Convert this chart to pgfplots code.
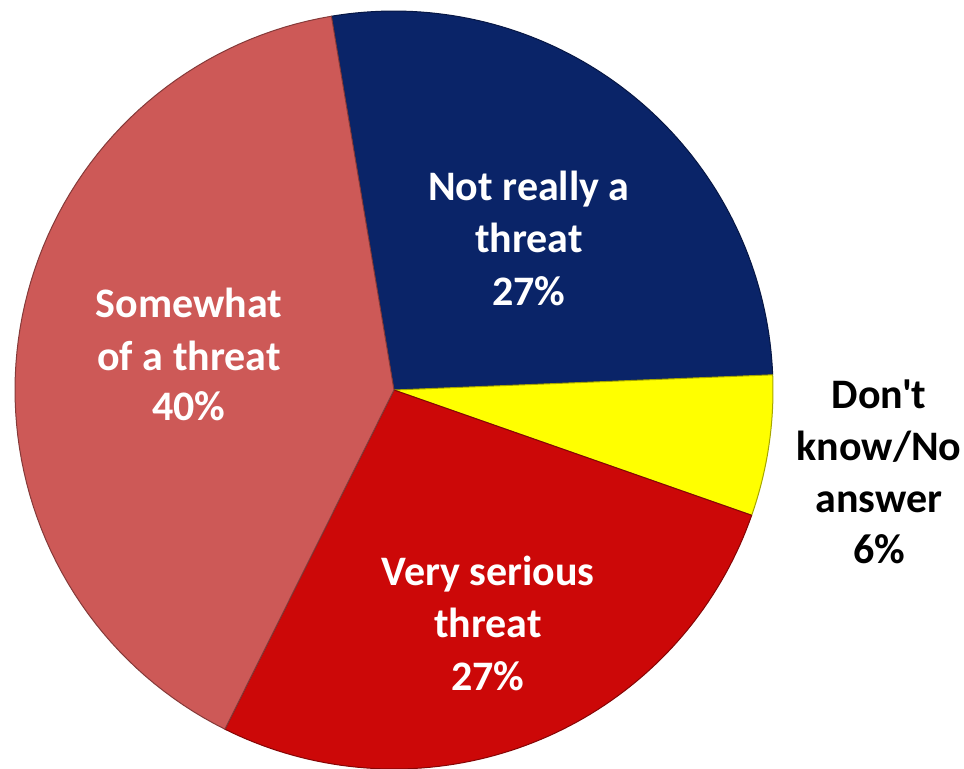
\documentclass[border=0pt]{standalone}
\usepackage{pgfplots}
\pgfplotsset{compat=1.18}
\usepackage{fontspec}
\setmainfont{Carlito}[Ligatures=TeXOff]
\definecolor{cSome}{RGB}{205,89,87}
\definecolor{cNot}{RGB}{10,36,104}
\definecolor{cDK}{RGB}{255,255,0}
\definecolor{cVery}{RGB}{204,8,8}
% shares in percent, clockwise from the top-left boundary
\def\vNot{27}
\def\vDK{6}
\def\vVery{27}
\def\vSome{40}
\def\aStart{-99.5}
\pgfmathsetmacro{\aA}{\aStart}
\pgfmathsetmacro{\aB}{\aA+3.6*\vNot}
\pgfmathsetmacro{\aC}{\aB+3.6*\vDK}
\pgfmathsetmacro{\aD}{\aC+3.6*\vVery}
\pgfmathsetmacro{\aE}{\aD+3.6*\vSome}
\newcommand{\slice}[3]{%
  \addplot[fill=#3, draw=#3!65!black, line width=0.5pt, line join=round,
    domain=#1:#2, samples=80, variable=\t]
    ({394+379*cos(t)},{390+379*sin(t)}) -- (axis cs:394,390) -- cycle;}
\begin{document}
\begin{tikzpicture}
\begin{axis}[
  width=482pt, height=384pt, scale only axis,
  xmin=0, xmax=964, ymin=0, ymax=768, y dir=reverse,
  hide axis, clip=true,
]
\addplot[draw=none] coordinates {(0,0) (964,768)};
\slice{\aA}{\aB}{cNot}
\slice{\aB}{\aC}{cDK}
\slice{\aC}{\aD}{cVery}
\slice{\aD}{\aE}{cSome}
\begin{scope}[every node/.style={anchor=base, inner sep=0pt, font=\fontsize{21}{26}\selectfont\bfseries}]
\node[white] at (axis cs:529,200) {Not really a};
\node[white] at (axis cs:529,252) {threat};
\node[white] at (axis cs:529,305) {27\%};
\node[white] at (axis cs:189,317) {Somewhat};
\node[white] at (axis cs:189,370) {of a threat};
\node[white] at (axis cs:189,420) {40\%};
\node[white] at (axis cs:488,585) {Very serious};
\node[white] at (axis cs:488,637) {threat};
\node[white] at (axis cs:488,690) {27\%};
\node[black] at (axis cs:879,408) {Don't};
\node[black] at (axis cs:879,460) {know/No};
\node[black] at (axis cs:879,512) {answer};
\node[black] at (axis cs:879,563) {6\%};
\end{scope}
\end{axis}
\end{tikzpicture}
\end{document}
